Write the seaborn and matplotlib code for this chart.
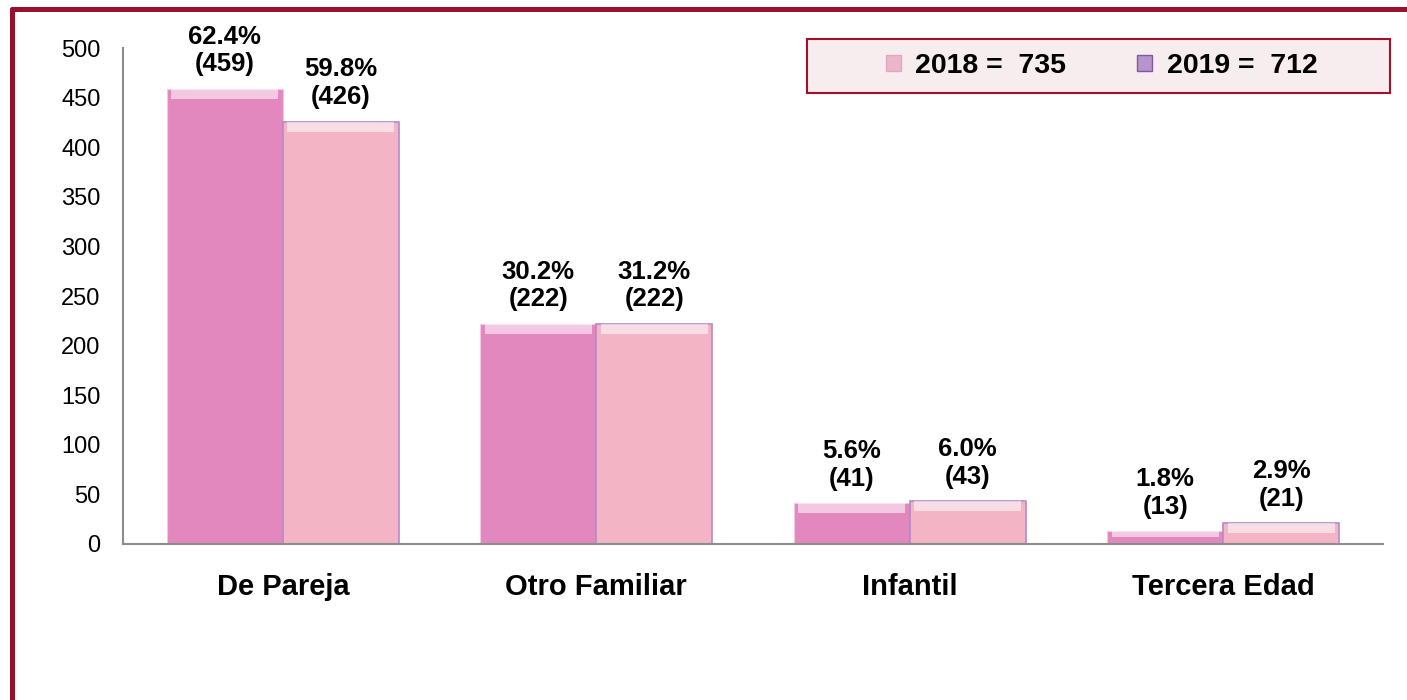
import matplotlib
matplotlib.use("Agg")
import matplotlib.pyplot as plt
import matplotlib.patches as mpatches
import seaborn as sns
import pandas as pd

# data
categorias = ["De Pareja", "Otro Familiar", "Infantil", "Tercera Edad"]
anios = ["2018", "2019"]
casos_2018 = [459, 222, 41, 13]
casos_2019 = [426, 222, 43, 21]
yticks = [0, 50, 100, 150, 200, 250, 300, 350, 400, 450, 500]

total_2018 = sum(casos_2018)
total_2019 = sum(casos_2019)

df = pd.DataFrame({
    "categoria": categorias * 2,
    "anio": [anios[0]] * 4 + [anios[1]] * 4,
    "casos": casos_2018 + casos_2019,
})
df["total"] = df["anio"].map({"2018": total_2018, "2019": total_2019})
df["pct"] = df["casos"] / df["total"] * 100

sns.set_style("white")
plt.rcParams["font.family"] = ["Liberation Sans", "DejaVu Sans"]
plt.rcParams["text.color"] = "black"
plt.rcParams["xtick.color"] = "black"
plt.rcParams["ytick.color"] = "black"

fig = plt.figure(figsize=(14.07, 7), dpi=100)
ax = fig.add_axes([0.0874, 0.223, 0.8956, 0.708])

colores = {"2018": "#E388BE", "2019": "#F3B4C6"}
sns.barplot(data=df, x="categoria", y="casos", hue="anio", order=categorias,
            hue_order=anios, palette=colores, width=0.74, saturation=1,
            legend=False, ax=ax)

# edges + light bevel on top of every bar
for i, p in enumerate(ax.patches):
    if i >= 4:
        p.set_edgecolor("#B48AC8")
        p.set_linewidth(1.2)
    else:
        p.set_edgecolor("#F4C8DE")
        p.set_linewidth(0.8)
    x0, w, h = p.get_x(), p.get_width(), p.get_height()
    bev = min(10, h * 0.5)
    ax.add_patch(mpatches.Rectangle((x0 + w * 0.04, h - bev), w * 0.92, bev,
                                    facecolor="white", alpha=0.55, lw=0))

# value labels
for i, p in enumerate(ax.patches[:8]):
    row = df.iloc[i]
    txt = f"{row['pct']:.1f}%\n({row['casos']})"
    ax.annotate(txt, (p.get_x() + p.get_width() / 2, p.get_height()),
                xytext=(0, 9), textcoords="offset points", ha="center",
                va="bottom", fontsize=18.5, fontweight="bold", linespacing=1.2)

ax.set_ylim(0, 500)
ax.set_xlim(-0.51, 3.51)
ax.set_yticks(yticks)
ax.set_xlabel("")
ax.set_ylabel("")
ax.tick_params(axis="y", length=0, labelsize=17, pad=16)
ax.tick_params(axis="x", length=0, labelsize=21, pad=21)
for lbl in ax.get_xticklabels():
    lbl.set_fontweight("bold")
for s in ["top", "right"]:
    ax.spines[s].set_visible(False)
for s in ["left", "bottom"]:
    ax.spines[s].set_color("#8C8C8C")
    ax.spines[s].set_linewidth(1.5)

# legend box (drawn separately) + legend entries with totals
fig.add_artist(mpatches.Rectangle((0.5736, 0.8671), 0.4144, 0.0771,
                                  transform=fig.transFigure,
                                  facecolor="#F8EDEE", edgecolor="#A0102C",
                                  lw=1.5))
h1 = mpatches.Patch(facecolor="#E9B6CC", edgecolor="#E3A6C2")
h2 = mpatches.Patch(facecolor="#B894CC", edgecolor="#7E5A9E")
leg = fig.legend([h1, h2], [f"2018 =  {total_2018}", f"2019 =  {total_2019}"],
                 ncol=2, loc="center", bbox_to_anchor=(0.7829, 0.9057),
                 prop={"size": 20.5, "weight": "bold"}, frameon=False,
                 handlelength=0.53, handleheight=0.53, columnspacing=2.5,
                 handletextpad=0.5, borderpad=0, borderaxespad=0)

# dark red frame lines (top and left)
fig.add_artist(plt.Line2D([0.0082, 1.0], [0.987, 0.987], color="#99102B",
                          lw=3.6, transform=fig.transFigure))
fig.add_artist(plt.Line2D([0.0082, 0.0082], [0.0, 0.987], color="#99102B",
                          lw=3.6, transform=fig.transFigure))

fig.savefig("out.png", dpi=100)
